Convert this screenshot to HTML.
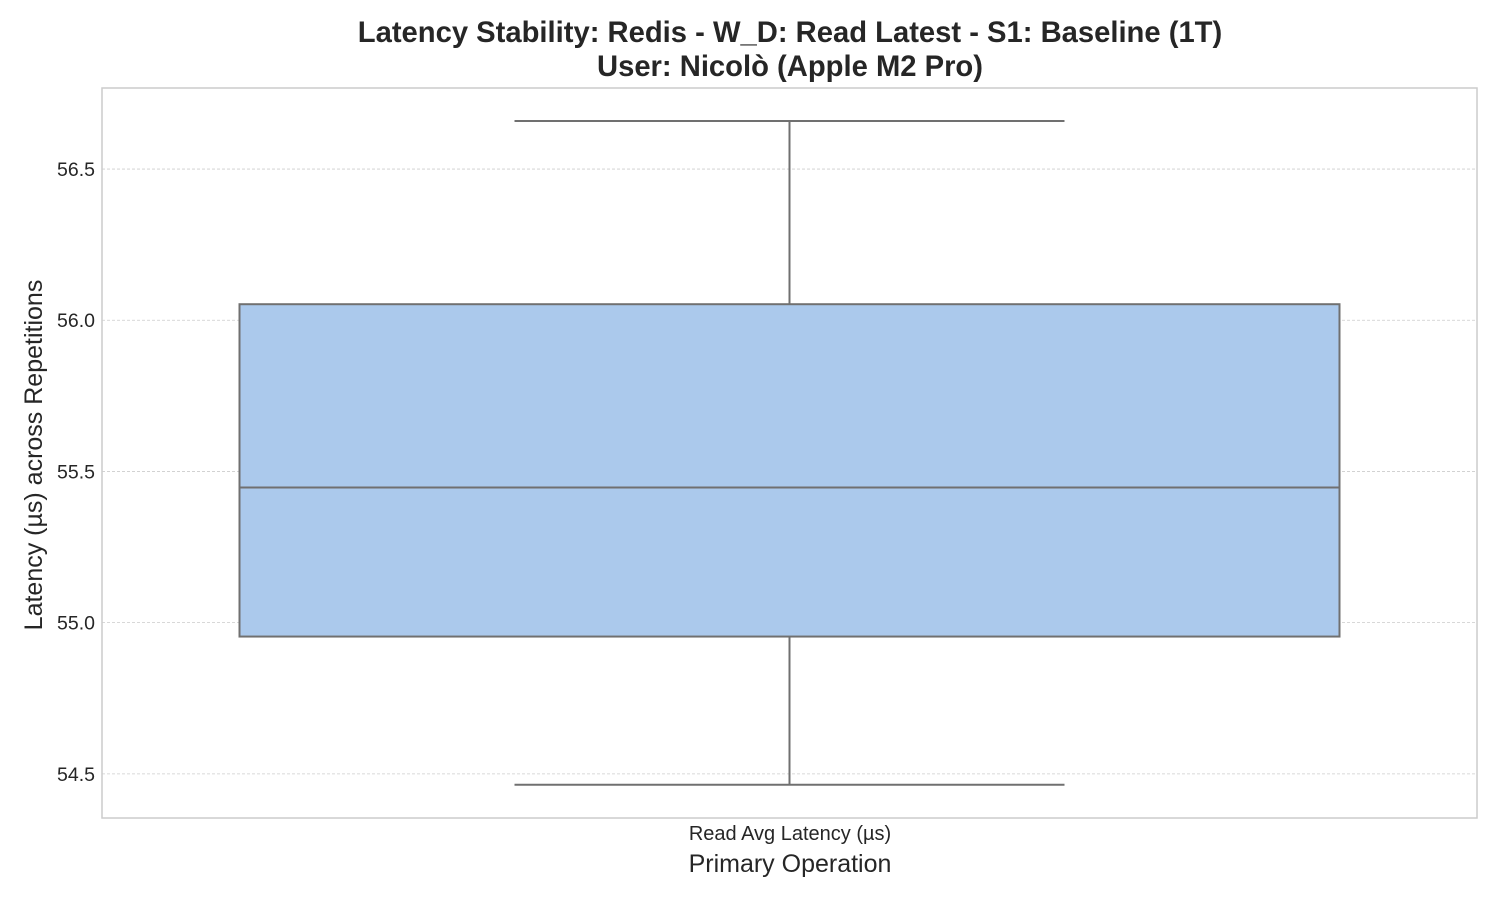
<!DOCTYPE html>
<html><head><meta charset="utf-8"><style>
body{margin:0;background:#fff;font-family:"Liberation Sans",Arial,sans-serif}
</style></head><body>
<svg id="chart" width="1500" height="900" xmlns="http://www.w3.org/2000/svg">
<text x="790" y="42" text-anchor="middle" font-size="29.2" font-weight="bold" fill="#262626">Latency Stability: Redis - W_D: Read Latest - S1: Baseline (1T)</text>
<text x="790" y="76" text-anchor="middle" font-size="29.2" font-weight="bold" fill="#262626">User: Nicolò (Apple M2 Pro)</text>
<g id="grid"></g>
<g id="marks"></g>
<rect x="102" y="88" width="1375" height="730" fill="none" stroke="#cccccc" stroke-width="1.5"/>
<g id="yticks"></g>
<text x="790" y="840" text-anchor="middle" font-size="20" fill="#262626">Read Avg Latency (µs)</text>
<text x="790" y="872" text-anchor="middle" font-size="25" fill="#262626">Primary Operation</text>
<text transform="translate(42,455) rotate(-90)" text-anchor="middle" font-size="25" fill="#262626">Latency (µs) across Repetitions</text>
</svg>
<script>
const categories=["Read Avg Latency (µs)"];
const whiskerLow=[54.464];
const q1=[54.954];
const median=[55.447];
const q3=[56.053];
const whiskerHigh=[56.659];
const yTicks=[54.5,55.0,55.5,56.0,56.5];
const NS="http://www.w3.org/2000/svg";
const yMin=54.354,yMax=56.768,plotTop=88,plotBottom=818,plotLeft=102,plotRight=1477;
const yScale=v=>plotBottom-(v-yMin)/(yMax-yMin)*(plotBottom-plotTop);
const band=(plotRight-plotLeft)/categories.length;
const xc=i=>plotLeft+band*(i+0.5);
function mk(tag,attrs,parent){const e=document.createElementNS(NS,tag);for(const k in attrs)e.setAttribute(k,attrs[k]);document.getElementById(parent).appendChild(e);return e;}
yTicks.forEach(t=>{
 const l=mk('line',{x1:plotLeft,x2:plotRight,y1:yScale(t),y2:yScale(t),stroke:'#cccccc','stroke-dasharray':'3,2','stroke-width':0.8},'grid');
 
 
 const tx=mk('text',{x:plotLeft-7,y:yScale(t)+7,'text-anchor':'end','font-size':19.5,fill:'#262626'},'yticks');
 tx.textContent=t.toFixed(1);
 
 
});
categories.forEach((c,i)=>{
 const cx=xc(i),bw=band*0.8,cw=band*0.4,st={stroke:'#707070','stroke-width':2};
 const w1=mk('line',Object.assign({x1:cx,x2:cx,y1:yScale(q3[i]),y2:yScale(whiskerHigh[i])},st),'marks');
 
 
 const w2=mk('line',Object.assign({x1:cx,x2:cx,y1:yScale(q1[i]),y2:yScale(whiskerLow[i])},st),'marks');
 
 
 const c1=mk('line',Object.assign({x1:cx-cw/2,x2:cx+cw/2,y1:yScale(whiskerHigh[i]),y2:yScale(whiskerHigh[i])},st),'marks');
 
 
 const c2=mk('line',Object.assign({x1:cx-cw/2,x2:cx+cw/2,y1:yScale(whiskerLow[i]),y2:yScale(whiskerLow[i])},st),'marks');
 
 
 const b=mk('rect',Object.assign({x:cx-bw/2,y:yScale(q3[i]),width:bw,height:yScale(q1[i])-yScale(q3[i]),fill:'#abc9ec'},st),'marks');
 
 
 const m=mk('line',Object.assign({x1:cx-bw/2,x2:cx+bw/2,y1:yScale(median[i]),y2:yScale(median[i])},st),'marks');
 
 
});
</script>
</body></html>
